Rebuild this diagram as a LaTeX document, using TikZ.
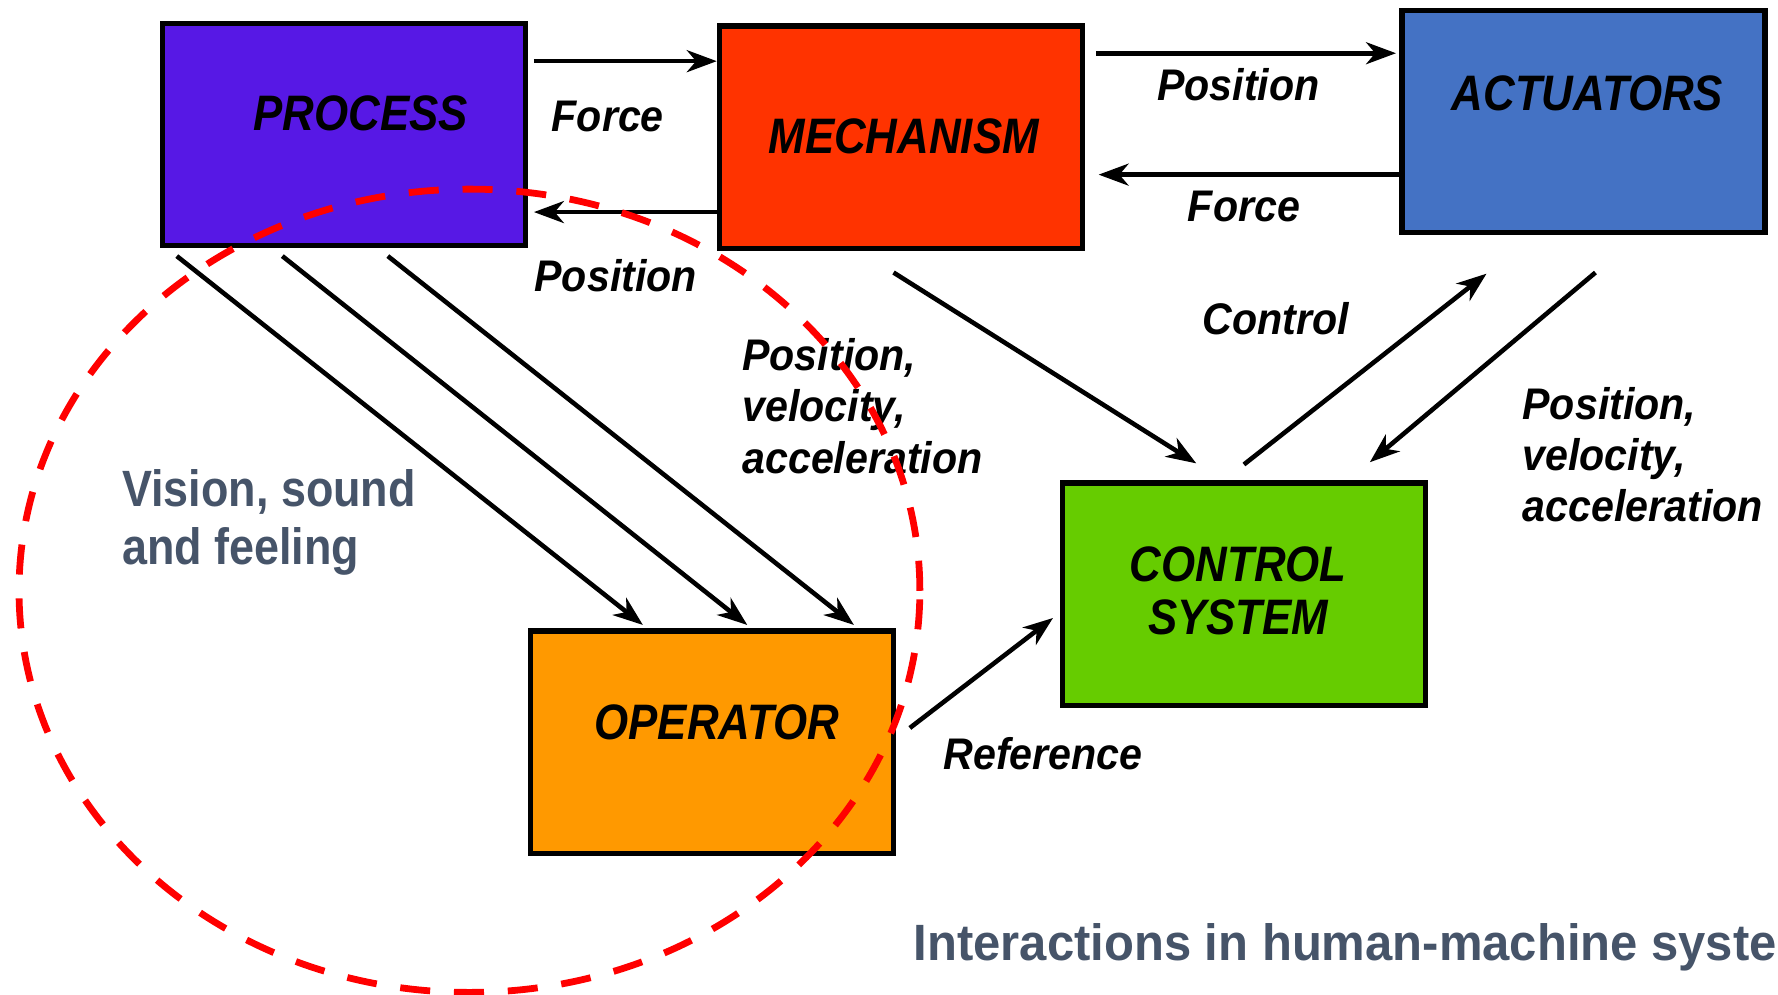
\documentclass[tikz,border=0pt]{standalone}
\usepackage{fontspec}
\setmainfont{Liberation Sans}[FakeStretch=0.88]
\newfontfamily\lblfont{Liberation Sans}[FakeStretch=0.93]
\newfontfamily\titlefont{Liberation Sans}[FakeStretch=0.96]
\usepackage{tikz}
\usetikzlibrary{arrows.meta}

\definecolor{procblue}{RGB}{87,24,229}
\definecolor{mechred}{RGB}{255,51,0}
\definecolor{actblue}{RGB}{68,114,196}
\definecolor{ctrlgreen}{RGB}{102,204,0}
\definecolor{operorange}{RGB}{255,153,0}
\definecolor{slate}{RGB}{70,84,105}

\tikzset{
  block/.style={draw, line width=1.3pt, minimum width=3.2cm, minimum height=1.96cm, inner sep=0pt},
  blocktext/.style={font=\fontsize{12.5}{13.1}\selectfont\bfseries\itshape, align=center, inner sep=0pt},
  lbl/.style={font=\lblfont\fontsize{11.1}{12.9}\selectfont\bfseries\itshape, align=left, inner sep=0pt},
  note/.style={font=\fontsize{12.8}{14.5}\selectfont\bfseries, text=slate, align=left, inner sep=0pt},
  arr/.style={line width=1.15pt, -{Stealth[length=7.5pt, width=5.5pt, inset=2.3pt]}}
}

\begin{document}
\begin{tikzpicture}[x=0.01cm, y=-0.01cm]
      \useasboundingbox (0,0) rectangle (1568,877);
      \node[block, fill=procblue] (proc) at (303.5,118.5) {};
      \node[block, fill=mechred] (mech) at (794.5,121) {};
      \node[block, fill=actblue] (act) at (1396.5,107) {};
      \node[block, fill=ctrlgreen] (ctrl) at (1097,524) {};
      \node[block, fill=operorange] (oper) at (628,654.5) {};
      \node[blocktext] (proctxt) at (318,100) {PROCESS};
      \node[blocktext] (mechtxt) at (797,120) {MECHANISM};
      \node[blocktext] (acttxt) at (1400,82) {ACTUATORS};
      \node[blocktext] (ctrltxt) at (1092,521) {CONTROL\\SYSTEM};
      \node[blocktext] (opertxt) at (632,637) {OPERATOR};

      \draw[arr] ([xshift=0.05cm,yshift=0.645cm]proc.east) coordinate (f1) -- (mech.west |- f1);
      \draw[arr, shorten >=0.05cm] ([yshift=-0.66cm]mech.west) coordinate (p1) -- (proc.east |- p1);
      \draw[arr, shorten >=0.03cm] ([xshift=0.1cm,yshift=0.74cm]mech.east) coordinate (p2) -- (act.west |- p2);
      \draw[arr, shorten >=0.12cm] ([yshift=-0.47cm]act.west) coordinate (f2) -- (mech.east |- f2);
      \draw[arr] ([xshift=-0.065cm,yshift=-0.19cm]mech.south) -- ([xshift=-0.42cm,yshift=0.15cm]ctrl.north);
      \draw[arr] ([yshift=0.14cm]ctrl.north) -- ([xshift=-0.855cm,yshift=-0.34cm]act.south);
      \draw[arr] ([xshift=0.105cm,yshift=-0.33cm]act.south) -- ([xshift=1.11cm,yshift=0.16cm]ctrl.north);
      \foreach \a/\b in {-1.475/-0.61, -0.545/0.31, 0.385/1.25}
        \draw[arr] ([xshift=\a cm,yshift=-0.07cm]proc.south) -- ([xshift=\b cm,yshift=0.03cm]oper.north);
      \draw[arr] ([xshift=0.12cm,yshift=0.125cm]oper.east) -- ([xshift=-0.06cm,yshift=-0.21cm]ctrl.west);

      \node[lbl] (force1) at (536,103) {Force};
      \node[lbl] (pos1) at (543,243) {Position};
      \node[lbl] (pos2) at (1092,75) {Position};
      \node[lbl] (force2) at (1097,182) {Force};
      \node[lbl] (control) at (1125,281) {Control};
      \node[lbl, anchor=west] (pva1) at (654,358) {Position,\\velocity,\\acceleration};
      \node[lbl, anchor=west] (pva2) at (1342,401) {Position,\\velocity,\\acceleration};
      \node[lbl] (ref) at (920,665) {Reference};
      \node[note, anchor=west] (senses) at (107,461) {Vision, sound\\and feeling};
      \node[note, font=\titlefont\fontsize{12.8}{14.5}\selectfont\bfseries, anchor=west] (title) at (805,835) {Interactions in human-machine systems};

      \draw[red, line width=1.7pt, dash pattern=on 0.265cm off 0.21cm] (414,521) ellipse [x radius=3.97cm, y radius=3.54cm];
    \end{tikzpicture}
\end{document}
